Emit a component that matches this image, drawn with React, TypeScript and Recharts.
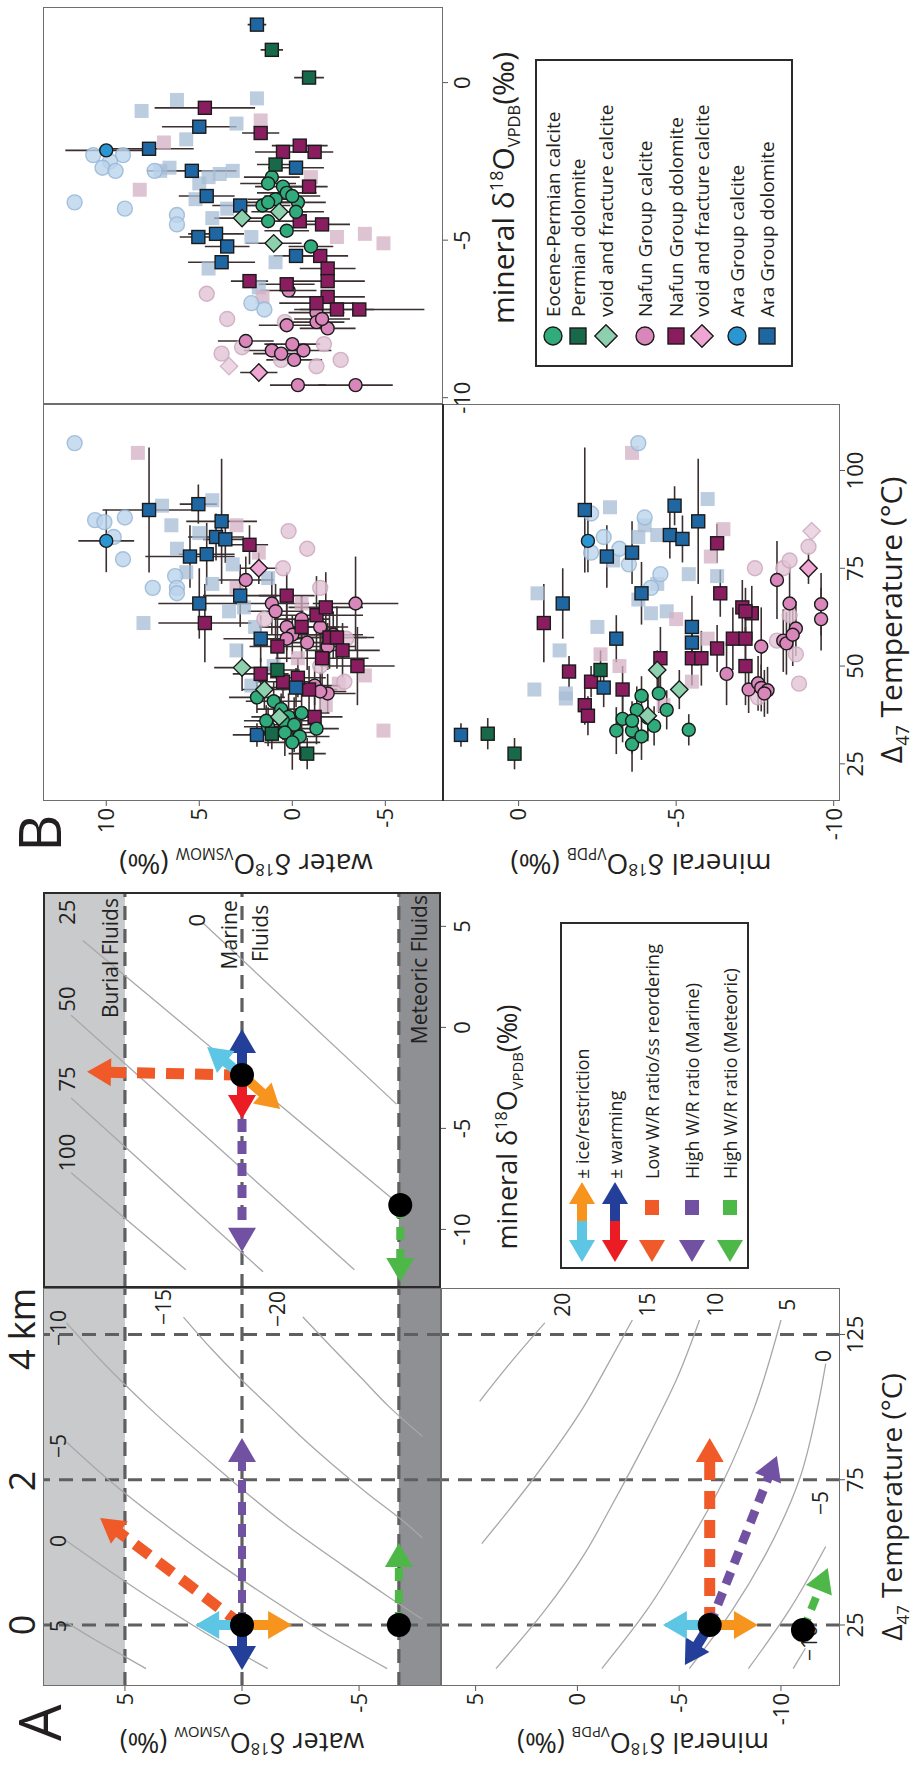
import React from 'react';
import { ScatterChart, Scatter, XAxis, YAxis, ReferenceArea, ReferenceLine, ErrorBar } from 'recharts';

const FONT = '"Open Sans", "Noto Sans", "DejaVu Sans", sans-serif';
const INK = '#231f20';
const GRAY_L = '#c9cacc';
const GRAY_D = '#8e9093';
const DASH = '#5f5f5f';
const ISO = '#a8a8a8';
const ERR = '#3b2f30';

// ---------------- Panel A : conceptual model ----------------
const aTempDomain: [number, number] = [4, 141];
const aWaterDomain: [number, number] = [-8.5, 8.5];
const aMineralDomain: [number, number] = [-12.9, 6.7];
const aTempTicks = [25, 75, 125];
const aWaterTicks = [5, 0, -5];
const aMineralTicks = [5, 0, -5, -10];
const depthLabels = ['0', '2', '4 km'];
const burialWater = 5;
const marineWater = 0;
const meteoricWater = -6.7;

// mineral d18O isolines in (temperature, water) space
const aTwIsolines = [
  [[10, 4.1], [15, 5.2], [20, 6.3], [26, 7.5]],
  [[10, -1.1], [20, 1.1], [30, 3.1], [40, 5.0], [54, 7.5]],
  [[10, -6.2], [20, -4.0], [30, -2.0], [45, 0.8], [60, 3.35], [75, 5.7], [88, 7.5]],
  [[27, -7.7], [35, -6.2], [45, -4.4], [60, -1.8], [80, 1.2], [100, 4.0], [115, 5.9], [129, 7.5]],
  [[55, -7.7], [60, -7.0], [70, -5.4], [80, -3.9], [90, -2.5], [100, -1.2], [110, 0.1], [120, 1.3], [131, 2.5]],
  [[90, -7.7], [100, -6.3], [110, -5.1], [120, -3.9], [131, -2.6]],
];
const aTwIsoLabels: [number, number, string][] = [
  [24.7, 7.86, '5'], [53.9, 7.86, '0'], [86.6, 7.86, '\u22125'], [127.2, 7.86, '\u221210'],
  [134.5, 3.37, '\u221215'], [133.8, -1.5, '\u221220'],
];

// temperature isolines in (mineral, water) space
const aMwIsolines = [
  [[5.2, 1.7], [-3.8, -6.6]],
  [[4.3, 6.8], [-8.8, -6.75]],
  [[0.6, 7.3], [-12.0, -4.8]],
  [[-3.5, 7.3], [-12.1, -0.9]],
  [[-7.2, 7.3], [-12.0, 2.4]],
];
const aMwIsoLabels: [number, number, string][] = [
  [5.7, 7.5, '25'], [1.4, 7.5, '50'], [-2.55, 7.5, '75'], [-6.2, 7.5, '100'], [5.3, 1.95, '0'],
];

// water d18O isolines in (temperature, mineral) space
const aTmIsolines = [
  [[102, 4.8], [116, 3.2], [129, 1.6]],
  [[53, 4.7], [75, 2.2], [100, -0.3], [116, -1.6], [130, -2.7]],
  [[10, 4.0], [30, 1.6], [50, -0.4], [65, -1.6], [90, -3.5], [110, -4.9], [130, -6.0]],
  [[10, -1.2], [30, -3.4], [50, -5.2], [75, -7.2], [100, -8.7], [130, -10.0]],
  [[10, -5.5], [30, -7.6], [50, -9.3], [75, -10.9], [100, -11.8], [115, -12.2]],
  [[10, -8.4], [30, -10.4], [52, -12.2]],
  [[10, -10.6], [17, -11.2]],
];
const aTmIsoLabels: [number, number, string][] = [
  [135.2, 0.76, '20'], [135.2, -3.4, '15'], [135.2, -6.76, '10'], [135.2, -10.3, '5'],
  [117.6, -12.06, '0'], [67, -11.9, '\u22125'], [18.8, -11.4, '\u221210'],
];

// arrows (start -> tip) and starting fluids
const aTwArrows = {
  lowWR: [[25, 0], [61.8, 6.06]], purple: [[25, 0], [89.4, 0]], blue: [[25, 0], [9.5, 0]],
  cyan: [[25, 0], [25, 2.0]], orange: [[25, 0], [25, -2.14]], green: [[25, -6.7], [53.2, -6.7]],
};
const aTwDots = [[25, 0], [25, -6.7]];
const aMwArrows = {
  purple: [[-2.36, 0], [-11.1, 0]], red: [[-2.36, 0], [-4.53, 0]], blue: [[-2.36, 0], [-0.08, 0]],
  lowWR: [[-2.36, 0], [-2.2, 6.62]], cyan: [[-2.36, 0], [-0.97, 1.49]], orange: [[-2.36, 0], [-4.04, -1.63]],
  green: [[-8.79, -6.76], [-12.6, -6.76]],
};
const aMwDots = [[-2.36, 0], [-8.79, -6.76]];
const aTmArrows = {
  lowWR: [[25, -6.5], [89.4, -6.5]], purple: [[25, -6.5], [83.2, -9.8]], blue: [[25, -6.5], [11.2, -5.28]],
  cyan: [[25, -6.5], [25, -4.2]], orange: [[25, -6.5], [25, -8.87]], green: [[23.3, -11.08], [44.6, -12.3]],
};
const aTmDots = [[25, -6.5], [23.3, -11.08]];

const fluidNotes: [number, number, string][] = [[4.58, 0.55, 'Marine'], [4.65, -0.75, 'Fluids']];

const legendA = [
  '\u00b1 ice/restriction', '\u00b1 warming', 'Low W/R ratio/ss reordering',
  'High W/R ratio (Marine)', 'High W/R ratio (Meteoric)',
];

// ---------------- Panel B : measured samples ----------------
const bTempDomain: [number, number] = [15.5, 117];
const bWaterDomain: [number, number] = [-8.1, 13.4];
const bMineralDomain: [number, number] = [-10.2, 2.4];
const bTempTicks = [25, 50, 75, 100];
const bWaterTicks = [10, 5, 0, -5];
const bMineralTicks = [0, -5, -10];

// water vs temperature: [T, water, errT, errWater]
const twAraDol = [[89.9, 7.7, 16, 2.5], [91.4, 5.05, 5, 1.0], [87, 3.8, 16, 1.9], [83, 4.1, 6, 1.5], [82.4, 3.6, 6, 1.2], [78, 5.5, 8, 2.4], [78.6, 4.6, 8, 1.5], [68, 2.8, 8, 2], [66, 5.0, 9, 2.2], [57, 1.7, 6, 2], [44.5, -0.2, 5, 1.5], [32.4, 1.9, 3, 1.3]];
const twAraCal = [[82, 10, 8, 1.5]];
const twNafDol = [[81, 2.3, 5, 1], [68, 0.3, 6, 1.5], [61, 4.7, 10, 2.5], [48, 1.7, 4, 1.5], [46, 0.5, 4, 1.5], [63, -1.3, 10, 2.5], [57.3, -2.0, 8, 2], [57.3, -2.4, 8, 2], [52, -1.6, 8, 2.5], [50, -3.5, 10, 2], [44, -0.9, 6, 1.5], [37, -1.2, 5, 1.5], [55, 0.8, 8, 1.5], [60, -0.5, 8, 2], [47, -0.3, 5, 1.5], [65, -1.8, 9, 2], [54, -2.7, 7, 2]];
const twPermDol = [[49, 0.8, 5, 1.2], [27.6, -0.8, 4, 1], [32.7, 1.1, 4, 1.2]];
const twEoCal = [[42, 1.9, 4, 1.5], [41, 1.0, 5, 1.5], [39, 0.6, 4, 1.3], [37, 0.2, 6, 1.5], [36, 0.5, 5, 1.4], [35, -0.1, 7, 1.5], [34, -1.3, 4, 1.2], [33, 0.4, 6, 1.5], [34.5, 1.3, 5, 1.3], [32, -0.4, 6, 1.6], [38, -0.5, 5, 1.5], [36, 1.4, 4, 1.2], [30.5, 0.0, 7, 1.5]];
const twEoVoid = [[49.6, 2.7, 6, 1.5], [37, 0.7, 4, 1.5], [44, 1.5, 5, 1.2]];
const twNafCal = [[72, 2.5, 6, 1.5], [66, 1.1, 8, 2], [60, 0.3, 6, 1.5], [58, 0.0, 5, 1.5], [57, 0.3, 6, 1.4], [66, -3.4, 12, 2.3], [43, -1.9, 5, 1.5], [58, -2.2, 6, 1.6], [56, -0.8, 7, 1.5], [62, -0.5, 6, 1.5], [64, 0.9, 7, 1.5], [45, -1.2, 5, 1.4], [43.5, -1.5, 5, 1.4], [60, -1.5, 6, 1.5], [55, -1.9, 6, 1.5]];
const twNafVoid = [[75, 1.8, 4, 1]];
const twFadeBlueCirc = [[107, 11.7], [87.3, 10.6], [86.8, 10.1], [88, 9.0], [83, 9.6], [77.3, 9.1], [70, 7.5], [73, 6.3], [70, 6.2], [68.6, 6.2]];
const twFadeBlueSq = [[91, 7.0], [92.4, 4.3], [86, 6.5], [84, 5.0], [74, 5.7], [71, 4.3], [64, 3.4], [54, 3.0], [61, 8.0], [72.5, 1.3], [65, 2.6], [80, 6.2], [76, 3.2], [60, 2.0], [50, 1.0], [45, 2.2]];
const twFadePinkSq = [[104.5, 8.3], [79, 1.8], [33.5, -4.9], [45.5, -2.5], [47.6, -3.9], [70, 3.0], [66, -0.5], [52, -0.3], [40, -1.8], [86, 3.0]];
const twFadePinkCirc = [[80, -0.8], [75, 0.5], [62, 1.5], [57, -2.9], [50, -1.5], [70, -1.5], [46, -2.8], [84.5, 0.2]];

// mineral vs temperature: [T, mineral, errT]
const tmAraDol = [[32.4, 1.83, 3], [89.9, -2.1, 16], [78, -2.8, 8], [66, -1.4, 9], [44.5, -2.7, 5], [91, -4.95, 5], [87, -5.7, 16], [83.5, -4.8, 6], [82.5, -5.2, 6], [79, -3.6, 8], [68.6, -3.9, 8], [60, -5.5, 8], [56, -5.5, 6], [57, -3.1, 6]];
const tmAraCal = [[82, -2.2, 8]];
const tmPermDol = [[32.7, 0.98, 4], [27.6, 0.13, 4], [49, -2.6, 5]];
const tmNafDol = [[61, -0.8, 10], [48.6, -1.6, 4], [46, -2.3, 4], [40, -2.1, 5], [37.3, -2.2, 5], [81.4, -6.3, 5], [68.6, -6.4, 6], [65, -7.1, 7], [63.5, -7.4, 7], [64, -7.2, 6], [57, -6.8, 8], [57, -7.2, 8], [54.5, -6.3, 6], [52, -4.5, 8], [52, -5.5, 7], [52, -5.8, 7], [50, -7.2, 10], [44, -3.3, 6]];
const tmEoCal = [[43, -4.45, 5], [42.4, -3.9, 5], [38.8, -4.7, 5], [38.8, -3.75, 6], [36.8, -4.1, 6], [36.5, -3.3, 6], [33.5, -3.6, 6], [34.7, -4.3, 5], [33.5, -3.1, 6], [30, -3.6, 7], [33.7, -5.4, 4], [36, -3.6, 5], [32, -3.9, 6]];
const tmEoVoid = [[44, -5.1, 5], [37.3, -4.1, 4], [49, -4.4, 5]];
const tmNafCal = [[72, -8.2, 10], [48, -6.6, 8], [55, -7.7, 10], [66, -8.6, 10], [56.5, -8.4, 8], [55.8, -8.5, 8], [59.6, -8.8, 7], [58, -8.7, 8], [65.8, -9.6, 8], [62, -9.6, 8], [44, -7.3, 6], [45.6, -7.6, 7], [44.4, -7.7, 6], [43.8, -7.9, 6], [43, -7.8, 6]];
const tmNafVoid = [[75, -9.2, 4]];
const tmFadeBlueSq = [[68.6, -0.6], [54, -1.3], [44, -0.5], [43, -1.5], [41.7, -1.5], [90.6, -2.9], [83.5, -4.4], [83, -3.8], [71, -4.4], [63.5, -4.2], [64, -4.7], [73.5, -5.4], [92.7, -6.0], [73, -6.3], [67, -3.8], [77, -3.0], [60, -2.5], [86, -4.0]];
const tmFadeBlueCirc = [[88, -4.0], [73.5, -4.5], [70, -4.2], [89, -2.3], [79, -2.3], [83, -2.7], [107, -3.8], [76, -3.5], [80, -3.2]];
const tmFadePinkSq = [[104.5, -3.6], [78, -6.1], [57, -6.0], [46, -5.5], [40, -4.6], [62, -5.0], [85, -6.5], [50, -3.2], [53, -2.6]];
const tmFadePinkCirc = [[75, -7.5], [75, -8.4], [77, -8.6], [80.5, -9.2], [53, -8.8], [45.5, -8.9], [56.5, -8.2], [63, -8.6], [42, -7.6]];
const tmFadePinkDia = [[84.5, -9.3]];

// water vs mineral: [mineral, water, errWater]
const mwAraDol = [[1.84, 1.9, 0.5], [-1.4, 5.0, 2.0], [-2.1, 7.7, 2.4], [-2.8, 5.4, 2.4], [-3.6, 4.6, 1.5], [-3.9, 2.8, 1.5], [-4.9, 5.05, 1.0], [-4.8, 4.1, 1.5], [-5.2, 3.5, 1.2], [-5.7, 3.8, 1.8], [-2.7, -0.2, 1.5], [-5.5, -0.2, 1.2]];
const mwAraCal = [[-2.15, 10.0, 2.2]];
const mwNafDol = [[-0.8, 4.7, 2.7], [-1.6, 1.7, 1.0], [-2.2, 0.5, 1.5], [-2.0, -0.4, 1.5], [-4.4, -0.4, 1.5], [-6.3, 2.3, 1.0], [-6.4, 0.3, 1.5], [-2.2, -1.2, 1.0], [-3.3, -0.9, 1.0], [-5.5, -1.5, 1.5], [-5.9, -1.9, 1.5], [-6.3, -1.9, 2], [-6.8, -1.9, 2], [-7.0, -1.3, 2], [-7.2, -2.4, 2], [-7.2, -3.6, 3.5], [-4.5, -1.6, 1.5]];
const mwPermDol = [[1.04, 1.1, 0.6], [0.16, -0.9, 0.8], [-2.6, 0.9, 1.0]];
const mwEoCal = [[-3.0, 1.1, 1.5], [-3.2, 1.3, 1.5], [-3.3, 0.5, 1.5], [-3.5, 0.3, 1.6], [-3.7, 0.9, 1.5], [-3.9, 1.6, 1.5], [-3.8, 1.3, 1.5], [-3.8, -0.3, 1.5], [-4.1, -0.2, 1.5], [-4.7, 0.3, 1.2], [-4.4, 1.3, 1.5], [-5.2, -1.0, 1.2], [-3.6, 0.0, 1.5]];
const mwEoVoid = [[-4.3, 2.7, 1.5], [-4.1, 0.7, 1.5], [-5.1, 1.0, 1.5]];
const mwNafCal = [[-6.6, 0.2, 1.5], [-7.3, -1.3, 1.5], [-7.6, -1.3, 1.5], [-7.8, -1.9, 1.5], [-8.2, 2.5, 1.5], [-8.5, -0.6, 1.5], [-9.6, -3.4, 2.0], [-7.7, 0.3, 1.5], [-8.5, 1.1, 1.5], [-8.8, -0.1, 1.5], [-9.6, -0.3, 1.5], [-8.6, 0.6, 1.5], [-8.3, 0.0, 1.5], [-7.5, -1.6, 1.5]];
const mwNafVoid = [[-9.2, 1.8, 1]];
const mwFadeBlueCirc = [[-3.8, 11.7], [-4.0, 9.0], [-4.2, 6.2], [-4.5, 6.2], [-2.3, 10.7], [-2.3, 9.1], [-2.5, 9.8], [-2.7, 10.2], [-2.8, 9.5], [-2.8, 7.4], [-7.0, 2.2], [-7.2, 1.5]];
const mwFadeBlueSq = [[-0.55, 6.2], [-0.9, 8.1], [-0.5, 1.9], [-1.3, 3.0], [-1.8, 5.7], [-3.2, 5.0], [-2.9, 3.9], [-2.8, 3.2], [-3.7, 5.2], [-4.3, 4.3], [-4.9, 2.2], [-5.9, 4.5], [-5.7, 0.9], [-6.5, 1.8], [-2.7, 6.6], [-2.8, 7.1], [-3.0, 4.5], [-4.0, 3.5]];
const mwFadePinkSq = [[-3.4, 8.2], [-1.9, 6.9], [-4.9, -2.4], [-4.8, -3.9], [-5.1, -4.9], [-1.2, 1.7], [-6.8, 1.6], [-3.0, -1.0]];
const mwFadePinkCirc = [[-6.7, 4.6], [-7.5, 3.5], [-7.6, 0.4], [-8.6, 3.8], [-8.4, 2.7], [-8.8, 0.6], [-8.8, -2.6], [-9.0, -1.3], [-8.3, -1.7]];
const mwFadePinkDia = [[-9.0, 3.4]];

const legendB: [string, string, string][] = [
  ['c', 'eoCal', 'Eocene-Permian calcite'],
  ['s', 'permDol', 'Permian dolomite'],
  ['d', 'eoVoid', 'void and fracture calcite'],
  ['c', 'nafCal', 'Nafun Group calcite'],
  ['s', 'nafDol', 'Nafun Group dolomite'],
  ['d', 'nafVoid', 'void and fracture calcite'],
  ['c', 'araCal', 'Ara Group calcite'],
  ['s', 'araDol', 'Ara Group dolomite'],
];

// ---------------- styles ----------------
const ARROW = {
  orange: '#f7941d', cyan: '#5cc6e4', blue: '#233f99', red: '#ec1c24',
  lowWR: '#f05a28', purple: '#7152a2', green: '#4db848',
};
const MK: Record<string, string> = {
  eoCal: '#2fab7c', permDol: '#17694a', eoVoid: '#8dd0ad', nafCal: '#d986ba',
  nafDol: '#8a1d5f', nafVoid: '#f0a6d2', araCal: '#2a97d4', araDol: '#1f67a3',
};

const xy = (a: number[][]) => a.map(([x, y]) => ({ x, y }));
const xyE = (a: number[][]) => a.map(([x, y, ex, ey]) => ({ x, y, ex, ey }));
const xyEx = (a: number[][]) => a.map(([x, y, ex]) => ({ x, y, ex }));
const xyEy = (a: number[][]) => a.map(([x, y, ey]) => ({ x, y, ey }));

const noShape = () => <g />;

function markerShape(kind: string, fill: string, stroke: string, r: number, op = 1) {
  return (p: any) => {
    const { cx, cy } = p;
    if (cx == null || cy == null) return <g />;
    const common = { fill, stroke, strokeWidth: 1.4, fillOpacity: op, strokeOpacity: op };
    if (kind === 'c') return <circle cx={cx} cy={cy} r={r} {...common} />;
    if (kind === 's') return <rect x={cx - r} y={cy - r} width={2 * r} height={2 * r} {...common} />;
    const d = r * 1.4;
    return <polygon points={`${cx},${cy - d} ${cx + d},${cy} ${cx},${cy + d} ${cx - d},${cy}`} {...common} />;
  };
}

function arrowShape(color: string, width: number, dash?: string) {
  return (p: any) => {
    const pts = p.points || [];
    if (pts.length < 2) return <g />;
    const a = pts[0];
    const b = pts[pts.length - 1];
    const dx = b.x - a.x;
    const dy = b.y - a.y;
    const len = Math.hypot(dx, dy) || 1;
    const ux = dx / len;
    const uy = dy / len;
    const hl = 24;
    const hw = 14;
    const bx = b.x - ux * hl;
    const by = b.y - uy * hl;
    return (
      <g>
        <line x1={a.x} y1={a.y} x2={bx + ux * 2} y2={by + uy * 2} stroke={color} strokeWidth={width} strokeDasharray={dash} />
        <polygon points={`${b.x},${b.y} ${bx - uy * hw},${by + ux * hw} ${bx + uy * hw},${by - ux * hw}`} fill={color} />
      </g>
    );
  };
}

const arrow = (k: string, path: number[][], color: string, width = 10, dash?: string) => (
  <Scatter key={k} data={xy(path)} shape={noShape} line={arrowShape(color, width, dash)} isAnimationActive={false} />
);

const dots = (k: string, list: number[][]) => (
  <Scatter key={k} data={xy(list)} isAnimationActive={false}
    shape={(p: any) => <circle cx={p.cx} cy={p.cy} r={12} fill="#000" />} />
);

const iso = (k: string, line: number[][], curved: boolean) => (
  <Scatter key={k} data={xy(line)} shape={noShape} line={{ stroke: ISO, strokeWidth: 1.3 }}
    lineJointType={curved ? 'monotoneX' : 'linear'} isAnimationActive={false} />
);

const texts = (k: string, items: [number, number, string][], size: number, anchor = 'middle') => (
  <Scatter key={k} data={items.map(([x, y, t]) => ({ x, y, t }))} isAnimationActive={false}
    shape={(p: any) => (
      <text x={p.cx} y={p.cy} textAnchor={anchor} dominantBaseline="central" fontSize={size} fontFamily={FONT} fill={INK}>
        {p.payload.t}
      </text>
    )} />
);

const hDash = (k: string, y: number) => (
  <ReferenceLine key={k} y={y} stroke={DASH} strokeWidth={3.2} strokeDasharray="14 9" />
);
const vDash = (k: string, x: number) => (
  <ReferenceLine key={k} x={x} stroke={DASH} strokeWidth={3.2} strokeDasharray="14 9" />
);

function series(k: string, data: any[], shape: any, ex: boolean, ey: boolean) {
  return (
    <Scatter key={k} data={data} shape={shape} isAnimationActive={false}>
      {ex && <ErrorBar dataKey="ex" direction="x" width={0} stroke={ERR} strokeWidth={1.6} />}
      {ey && <ErrorBar dataKey="ey" direction="y" width={0} stroke={ERR} strokeWidth={1.6} />}
    </Scatter>
  );
}

type Rect = { x: number; y: number; w: number; h: number };
type Pad = { l: number; t: number; r: number; b: number };

function Plot(props: {
  rect: Rect; pad: Pad; xDomain: [number, number]; yDomain: [number, number];
  xTicks?: number[]; yTicks?: number[]; xTickMargin?: number; children: React.ReactNode;
}) {
  const { rect, pad, xDomain, yDomain, xTicks, yTicks, xTickMargin = 2, children } = props;
  const showX = !!xTicks;
  const showY = !!yTicks;
  const tick = { fill: INK, fontSize: 22, fontFamily: FONT };
  return (
    <div style={{ position: 'absolute', left: rect.x - pad.l, top: rect.y - pad.t }}>
      <ScatterChart
        width={rect.w + pad.l + pad.r}
        height={rect.h + pad.t + pad.b}
        margin={{ top: pad.t, right: pad.r, left: showY ? 0 : pad.l, bottom: showX ? 0 : pad.b }}
      >
        <XAxis type="number" dataKey="x" domain={xDomain} allowDataOverflow hide={!showX} ticks={xTicks}
          interval={0} height={pad.b || 1} axisLine={false} tickSize={5} tickMargin={xTickMargin}
          tickLine={{ stroke: '#555' }} tick={tick} />
        <YAxis type="number" dataKey="y" domain={yDomain} allowDataOverflow hide={!showY} ticks={yTicks}
          interval={0} width={pad.l || 1} axisLine={false} tickSize={5} tickLine={{ stroke: '#555' }} tick={tick} />
        {children}
      </ScatterChart>
    </div>
  );
}

function D18({ sub }: { sub: string }) {
  return (
    <>
      {'\u03b4'}<span style={{ fontSize: '0.6em', position: 'relative', top: '-0.62em' }}>18</span>O<span
        style={{ fontSize: '0.55em', position: 'relative', top: '0.38em' }}>{sub}</span>
    </>
  );
}

function Title(props: { cx: number; cy: number; size: number; rot?: boolean; children: React.ReactNode }) {
  const { cx, cy, size, rot, children } = props;
  return (
    <div style={{
      position: 'absolute', left: cx, top: cy, whiteSpace: 'nowrap', lineHeight: 1, fontSize: size,
      color: INK, transform: `translate(-50%, -50%)${rot ? ' rotate(-90deg)' : ''}`,
    }}>{children}</div>
  );
}

const R = {
  aTL: { x: 79, y: 43, w: 398, h: 398 },
  aBL: { x: 79, y: 441, w: 398, h: 399 },
  aTR: { x: 477, y: 43, w: 396, h: 398 },
  bTL: { x: 964, y: 43, w: 397, h: 400 },
  bBL: { x: 964, y: 443, w: 397, h: 397 },
  bTR: { x: 1361, y: 43, w: 397, h: 400 },
};

function LegendArrowIcon({ i }: { i: number }) {
  const head = (tip: number, dir: number, c: string) => (
    <polygon points={`${tip},15 ${tip + dir * 22},2 ${tip + dir * 22},28`} fill={c} />
  );
  if (i < 2) {
    const left = i === 0 ? ARROW.cyan : ARROW.red;
    const right = i === 0 ? ARROW.orange : ARROW.blue;
    return (
      <svg width={86} height={30}>
        <rect x={24} y={10} width={20} height={10} fill={left} />
        <rect x={44} y={10} width={20} height={10} fill={right} />
        {head(3, 1, left)}
        {head(83, -1, right)}
      </svg>
    );
  }
  const c = i === 2 ? ARROW.lowWR : i === 3 ? ARROW.purple : ARROW.green;
  return (
    <svg width={86} height={30}>
      {head(3, 1, c)}
      <rect x={50} y={8} width={15} height={14} fill={c} />
    </svg>
  );
}

function LegendMarker({ kind, fill }: { kind: string; fill: string }) {
  const s = markerShape(kind, fill, '#1b1b1b', kind === 'c' ? 9 : 8);
  return <svg width={26} height={26}>{s({ cx: 13, cy: 13 })}</svg>;
}

function Figure() {
  const legARows = [582, 615, 652, 692, 730];
  const legBRows = [553, 578, 606, 645, 676, 702, 737, 767];
  const depthX = [140, 284, 436];
  const fadeSq = (c: string) => markerShape('s', c, 'none', 7, 0.75);
  const fadeCirc = (c: string, s: string) => markerShape('c', c, s, 7.5, 0.8);
  const dk = (kind: string, key: string) => markerShape(kind, MK[key], '#1b1b1b', kind === 'd' ? 6.2 : 6.5);

  return (
    <div style={{ position: 'absolute', left: 0, top: 0, width: 1765, height: 915, background: '#fff',
      transformOrigin: '0 0', transform: 'rotate(-90deg) translateX(-1765px)', fontFamily: FONT, color: INK }}>

      {/* ---------- Panel A ---------- */}
      <Plot rect={R.aTL} pad={{ l: 79, t: 0, r: 0, b: 0 }} xDomain={aTempDomain} yDomain={aWaterDomain} yTicks={aWaterTicks}>
        <ReferenceArea y1={burialWater} y2={aWaterDomain[1]} fill={GRAY_L} fillOpacity={1} stroke="none" />
        <ReferenceArea y1={aWaterDomain[0]} y2={meteoricWater} fill={GRAY_D} fillOpacity={1} stroke="none" />
        {aTwIsolines.map((l, i) => iso(`atw${i}`, l, true))}
        {hDash('h1', burialWater)}{hDash('h2', marineWater)}{hDash('h3', meteoricWater)}
        {aTempTicks.map((t) => vDash(`v${t}`, t))}
        {texts('atwl', aTwIsoLabels, 21)}
        {arrow('a1', aTwArrows.purple, ARROW.purple, 8, '13 9')}
        {arrow('a2', aTwArrows.lowWR, ARROW.lowWR, 11, '18 11')}
        {arrow('a3', aTwArrows.green, ARROW.green, 8, '13 9')}
        {arrow('a4', aTwArrows.blue, ARROW.blue)}
        {arrow('a5', aTwArrows.cyan, ARROW.cyan)}
        {arrow('a6', aTwArrows.orange, ARROW.orange)}
        {dots('ad', aTwDots)}
      </Plot>

      <Plot rect={R.aBL} pad={{ l: 79, t: 0, r: 0, b: 34 }} xDomain={aTempDomain} yDomain={aMineralDomain}
        xTicks={aTempTicks} yTicks={aMineralTicks}>
        {aTmIsolines.map((l, i) => iso(`atm${i}`, l, true))}
        {aTempTicks.map((t) => vDash(`bv${t}`, t))}
        {texts('atml', aTmIsoLabels, 21)}
        {arrow('b1', aTmArrows.lowWR, ARROW.lowWR, 11, '18 11')}
        {arrow('b2', aTmArrows.purple, ARROW.purple, 9, '13 9')}
        {arrow('b3', aTmArrows.green, ARROW.green, 8, '13 9')}
        {arrow('b4', aTmArrows.blue, ARROW.blue)}
        {arrow('b5', aTmArrows.cyan, ARROW.cyan)}
        {arrow('b6', aTmArrows.orange, ARROW.orange)}
        {dots('bd', aTmDots)}
      </Plot>

      <Plot rect={R.aTR} pad={{ l: 0, t: 0, r: 0, b: 34 }} xDomain={aMineralDomain} yDomain={aWaterDomain}
        xTicks={aMineralTicks} xTickMargin={8}>
        <ReferenceArea y1={burialWater} y2={aWaterDomain[1]} fill={GRAY_L} fillOpacity={1} stroke="none" />
        <ReferenceArea y1={aWaterDomain[0]} y2={meteoricWater} fill={GRAY_D} fillOpacity={1} stroke="none" />
        {aMwIsolines.map((l, i) => iso(`amw${i}`, l, false))}
        {hDash('c1', burialWater)}{hDash('c2', marineWater)}{hDash('c3', meteoricWater)}
        {texts('amwl', aMwIsoLabels, 22)}
        {texts('burial', [[6.4, 5.65, 'Burial Fluids']], 21, 'end')}
        {texts('marine', fluidNotes, 21)}
        {texts('meteoric', [[6.55, -7.55, 'Meteoric Fluids']], 21, 'end')}
        {arrow('c4', aMwArrows.purple, ARROW.purple, 9, '13 9')}
        {arrow('c5', aMwArrows.red, ARROW.red)}
        {arrow('c6', aMwArrows.blue, ARROW.blue)}
        {arrow('c7', aMwArrows.lowWR, ARROW.lowWR, 11, '18 11')}
        {arrow('c8', aMwArrows.cyan, ARROW.cyan)}
        {arrow('c9', aMwArrows.orange, ARROW.orange)}
        {arrow('c10', aMwArrows.green, ARROW.green, 8, '13 9')}
        {dots('cd', aMwDots)}
      </Plot>

      {/* ---------- Panel B ---------- */}
      <Plot rect={R.bTL} pad={{ l: 60, t: 0, r: 0, b: 0 }} xDomain={bTempDomain} yDomain={bWaterDomain} yTicks={bWaterTicks}>
        {series('f1', xy(twFadeBlueSq), fadeSq('#a7bcd6'), false, false)}
        {series('f2', xy(twFadePinkSq), fadeSq('#d3b0c4'), false, false)}
        {series('f3', xy(twFadeBlueCirc), fadeCirc('#bcd5ec', '#95b4d3'), false, false)}
        {series('f4', xy(twFadePinkCirc), fadeCirc('#e2c3d5', '#c9a5bb'), false, false)}
        {series('s1', xyE(twNafCal), dk('c', 'nafCal'), true, true)}
        {series('s2', xyE(twNafDol), dk('s', 'nafDol'), true, true)}
        {series('s3', xyE(twAraDol), dk('s', 'araDol'), true, true)}
        {series('s4', xyE(twAraCal), dk('c', 'araCal'), true, true)}
        {series('s5', xyE(twEoCal), dk('c', 'eoCal'), true, true)}
        {series('s6', xyE(twPermDol), dk('s', 'permDol'), true, true)}
        {series('s7', xyE(twEoVoid), dk('d', 'eoVoid'), true, true)}
        {series('s8', xyE(twNafVoid), dk('d', 'nafVoid'), true, true)}
      </Plot>

      <Plot rect={R.bBL} pad={{ l: 60, t: 0, r: 0, b: 34 }} xDomain={bTempDomain} yDomain={bMineralDomain}
        xTicks={bTempTicks} yTicks={bMineralTicks}>
        {series('g1', xy(tmFadeBlueSq), fadeSq('#a7bcd6'), false, false)}
        {series('g2', xy(tmFadePinkSq), fadeSq('#d3b0c4'), false, false)}
        {series('g3', xy(tmFadeBlueCirc), fadeCirc('#bcd5ec', '#95b4d3'), false, false)}
        {series('g4', xy(tmFadePinkCirc), fadeCirc('#e2c3d5', '#c9a5bb'), false, false)}
        {series('g5', xy(tmFadePinkDia), markerShape('d', '#ecd3e2', '#cfb0c2', 6.2, 0.9), false, false)}
        {series('t1', xyEx(tmNafCal), dk('c', 'nafCal'), true, false)}
        {series('t2', xyEx(tmNafDol), dk('s', 'nafDol'), true, false)}
        {series('t3', xyEx(tmAraDol), dk('s', 'araDol'), true, false)}
        {series('t4', xyEx(tmAraCal), dk('c', 'araCal'), true, false)}
        {series('t5', xyEx(tmEoCal), dk('c', 'eoCal'), true, false)}
        {series('t6', xyEx(tmPermDol), dk('s', 'permDol'), true, false)}
        {series('t7', xyEx(tmEoVoid), dk('d', 'eoVoid'), true, false)}
        {series('t8', xyEx(tmNafVoid), dk('d', 'nafVoid'), true, false)}
      </Plot>

      <Plot rect={R.bTR} pad={{ l: 26, t: 0, r: 0, b: 34 }} xDomain={bMineralDomain} yDomain={bWaterDomain}
        xTicks={bMineralTicks} xTickMargin={6}>
        {series('h1', xy(mwFadeBlueSq), fadeSq('#a7bcd6'), false, false)}
        {series('h2', xy(mwFadePinkSq), fadeSq('#d3b0c4'), false, false)}
        {series('h3', xy(mwFadeBlueCirc), fadeCirc('#bcd5ec', '#95b4d3'), false, false)}
        {series('h4', xy(mwFadePinkCirc), fadeCirc('#e2c3d5', '#c9a5bb'), false, false)}
        {series('h5', xy(mwFadePinkDia), markerShape('d', '#ecd3e2', '#cfb0c2', 6.2, 0.9), false, false)}
        {series('u1', xyEy(mwNafCal), dk('c', 'nafCal'), false, true)}
        {series('u2', xyEy(mwNafDol), dk('s', 'nafDol'), false, true)}
        {series('u3', xyEy(mwAraDol), dk('s', 'araDol'), false, true)}
        {series('u4', xyEy(mwAraCal), dk('c', 'araCal'), false, true)}
        {series('u5', xyEy(mwEoCal), dk('c', 'eoCal'), false, true)}
        {series('u6', xyEy(mwPermDol), dk('s', 'permDol'), false, true)}
        {series('u7', xyEy(mwEoVoid), dk('d', 'eoVoid'), false, true)}
        {series('u8', xyEy(mwNafVoid), dk('d', 'nafVoid'), false, true)}
      </Plot>

      {/* frames */}
      {[R.aTL, R.aBL, R.bTL, R.bBL, R.bTR].map((r, i) => (
        <div key={`fr${i}`} style={{ position: 'absolute', left: r.x, top: r.y, width: r.w, height: r.h,
          border: '1.5px solid #6e6e6e', boxSizing: 'border-box', pointerEvents: 'none' }} />
      ))}
      <div style={{ position: 'absolute', left: R.aTR.x, top: R.aTR.y, width: R.aTR.w, height: R.aTR.h,
        border: '2px solid #2b2b2b', boxSizing: 'border-box' }} />
      <div style={{ position: 'absolute', left: R.bTL.x, top: R.bBL.y - 1, width: R.bTL.w, height: 2, background: '#2b2b2b' }} />

      {/* panel letters and depth scale */}
      <div style={{ position: 'absolute', left: 24, top: 10, fontSize: 58, lineHeight: 1 }}>A</div>
      <div style={{ position: 'absolute', left: 913, top: 10, fontSize: 58, lineHeight: 1 }}>B</div>
      {depthLabels.map((d, i) => (
        <div key={d} style={{ position: 'absolute', left: depthX[i], top: 4, fontSize: 36, lineHeight: 1,
          transform: 'translateX(-50%)', whiteSpace: 'nowrap' }}>{d}</div>
      ))}

      {/* axis titles */}
      <Title cx={22} cy={242} size={27} rot>water <D18 sub="VSMOW" /> (‰)</Title>
      <Title cx={22} cy={643} size={27} rot>mineral <D18 sub="VPDB" /> (‰)</Title>
      <Title cx={258} cy={891} size={28}>{'\u0394'}<span style={{ fontSize: '0.6em', position: 'relative', top: '0.4em' }}>47</span> Temperature (°C)</Title>
      <Title cx={638} cy={506} size={27}>mineral <D18 sub="VPDB" />(‰)</Title>
      <Title cx={900} cy={246} size={28} rot>water <D18 sub="VSMOW" /> (‰)</Title>
      <Title cx={900} cy={641} size={28} rot>mineral <D18 sub="VPDB" /> (‰)</Title>
      <Title cx={1145} cy={891} size={30}>{'\u0394'}<span style={{ fontSize: '0.6em', position: 'relative', top: '0.4em' }}>47</span> Temperature (°C)</Title>
      <Title cx={1577} cy={503} size={30}>mineral <D18 sub="VPDB" />(‰)</Title>

      {/* legend A */}
      <div style={{ position: 'absolute', left: 496, top: 560, width: 347, height: 189, border: '2px solid #2b2b2b', boxSizing: 'border-box' }} />
      {legendA.map((t, i) => (
        <React.Fragment key={t}>
          <div style={{ position: 'absolute', left: 500, top: legARows[i] - 15 }}><LegendArrowIcon i={i} /></div>
          <div style={{ position: 'absolute', left: 586, top: legARows[i], transform: 'translateY(-50%)', fontSize: 18, whiteSpace: 'nowrap', lineHeight: 1 }}>{t}</div>
        </React.Fragment>
      ))}

      {/* legend B */}
      <div style={{ position: 'absolute', left: 1398, top: 535, width: 308, height: 258, border: '2px solid #2b2b2b', boxSizing: 'border-box' }} />
      {legendB.map(([kind, key, label], i) => (
        <React.Fragment key={`lb${i}`}>
          <div style={{ position: 'absolute', left: 1416, top: legBRows[i] - 13 }}><LegendMarker kind={kind} fill={MK[key]} /></div>
          <div style={{ position: 'absolute', left: 1448, top: legBRows[i], transform: 'translateY(-50%)', fontSize: 19, whiteSpace: 'nowrap', lineHeight: 1 }}>{label}</div>
        </React.Fragment>
      ))}
    </div>
  );
}

export default function App() {
  return <Figure />;
}
